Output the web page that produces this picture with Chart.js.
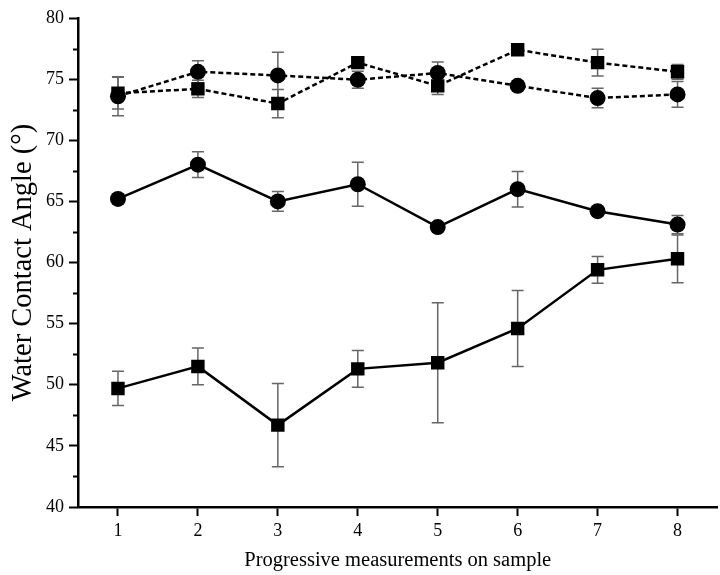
<!DOCTYPE html>
<html>
<head>
<meta charset="utf-8">
<script src="https://cdn.jsdelivr.net/npm/chart.js@4"></script>
<style>
  html, body { margin: 0; padding: 0; background: #fff; overflow: hidden; }
  #wrap { width: 727px; height: 575px; }
</style>
</head>
<body>
<div id="wrap"><canvas id="chart"></canvas></div>
<script>
const FONT = "'Liberation Serif', 'Times New Roman', serif";

// measurement index on the sample
const xs = [1, 2, 3, 4, 5, 6, 7, 8];
const yTicks = [40, 45, 50, 55, 60, 65, 70, 75, 80];
const yMinorTicks = [42.5, 47.5, 52.5, 57.5, 62.5, 67.5, 72.5, 77.5];

// solid line, squares
const sqSolid    = [49.7, 51.5, 46.7, 51.3, 51.8, 54.6, 59.4, 60.3];
const sqSolidErr = [1.4, 1.5, 3.4, 1.5, 4.9, 3.1, 1.1, 1.95];
// solid line, circles
const ciSolid    = [65.2, 68.0, 65.0, 66.4, 62.9, 66.0, 64.2, 63.1];
const ciSolidErr = [0.4, 1.05, 0.8, 1.8, 0.3, 1.45, 0.3, 0.75];
// dashed line, squares
const sqDash     = [73.85, 74.2, 73.0, 76.35, 74.45, 77.4, 76.35, 75.6];
const sqDashErr  = [1.3, 0.7, 1.15, 0.3, 0.7, 0.3, 1.1, 0.6];
// dashed line, circles
const ciDash     = [73.6, 75.6, 75.3, 74.95, 75.5, 74.45, 73.45, 73.75];
const ciDashErr  = [1.6, 0.9, 1.9, 0.7, 0.9, 0.3, 0.8, 1.05];

const toPoints = (ys, errs) => xs.map((x, i) => ({ x: x, y: ys[i], err: errs[i] }));

function series(label, ys, errs, style, dashed) {
    return {
        label: label,
        data: toPoints(ys, errs),
        borderColor: '#000',
        backgroundColor: '#000',
        borderWidth: 2.5,
        borderDash: dashed ? [5, 3] : [],
        pointStyle: style,
        pointRadius: style === 'rect' ? 9.5 : 8,
        pointBorderWidth: 0,
        tension: 0,
        fill: false
    };
}

// error bars go under the markers
const errorBars = {
    id: 'errorBars',
    beforeDatasetsDraw(chart) {
        const { ctx, scales: { x, y } } = chart;
        ctx.save();
        ctx.strokeStyle = '#666';
        ctx.lineWidth = 1.5;
        chart.data.datasets.forEach(ds => {
            ds.data.forEach(p => {
                const px = x.getPixelForValue(p.x);
                const top = y.getPixelForValue(p.y + p.err);
                const bot = y.getPixelForValue(p.y - p.err);
                ctx.beginPath();
                ctx.moveTo(px, top); ctx.lineTo(px, bot);
                ctx.moveTo(px - 6, top); ctx.lineTo(px + 6, top);
                ctx.moveTo(px - 6, bot); ctx.lineTo(px + 6, bot);
                ctx.stroke();
            });
        });
        ctx.restore();
    }
};

// short minor ticks between labelled y ticks
const minorTicks = {
    id: 'minorTicks',
    afterDraw(chart) {
        const { ctx, chartArea, scales: { y } } = chart;
        ctx.save();
        ctx.strokeStyle = '#000';
        ctx.lineWidth = 2;
        yMinorTicks.forEach(v => {
            const py = Math.round(y.getPixelForValue(v)) + 0.5;
            ctx.beginPath();
            ctx.moveTo(chartArea.left - 5, py);
            ctx.lineTo(chartArea.left, py);
            ctx.stroke();
        });
        ctx.restore();
    }
};

new Chart(document.getElementById('chart'), {
    type: 'line',
    data: {
        datasets: [
            series('squares solid', sqSolid, sqSolidErr, 'rect', false),
            series('circles solid', ciSolid, ciSolidErr, 'circle', false),
            series('squares dashed', sqDash, sqDashErr, 'rect', true),
            series('circles dashed', ciDash, ciDashErr, 'circle', true)
        ]
    },
    options: {
        responsive: true,
        maintainAspectRatio: false,
        animation: false,
        layout: { padding: { top: 18, right: 0, bottom: 0, left: 0 } },
        scales: {
            x: {
                type: 'linear',
                min: 0.5,
                max: 8.5,
                afterBuildTicks: s => { s.ticks = xs.map(v => ({ value: v })); },
                afterFit: s => { s.height = 68; },
                grid: { drawOnChartArea: false, drawTicks: true, tickLength: 9, tickWidth: 2, tickColor: '#000' },
                border: { display: true, color: '#000', width: 2.5 },
                ticks: { color: '#000', font: { family: FONT, size: 18 }, padding: 4, maxRotation: 0 },
                title: { display: true, text: 'Progressive measurements on sample', color: '#000', font: { family: FONT, size: 20.5 }, padding: { top: 2, bottom: 2 } }
            },
            y: {
                type: 'linear',
                min: 40,
                max: 80,
                afterBuildTicks: s => { s.ticks = yTicks.map(v => ({ value: v })); },
                afterFit: s => { s.width = 78; },
                grid: { drawOnChartArea: false, drawTicks: true, tickLength: 9, tickWidth: 2, tickColor: '#000' },
                border: { display: true, color: '#000', width: 2.5 },
                ticks: { color: '#000', font: { family: FONT, size: 18 }, padding: 5 },
                title: { display: true, text: 'Water Contact Angle (°)', color: '#000', font: { family: FONT, size: 28.5 }, padding: { top: 6, bottom: 0 } }
            }
        },
        plugins: {
            legend: { display: false },
            tooltip: { enabled: false }
        }
    },
    plugins: [errorBars, minorTicks]
});
</script>
</body>
</html>
